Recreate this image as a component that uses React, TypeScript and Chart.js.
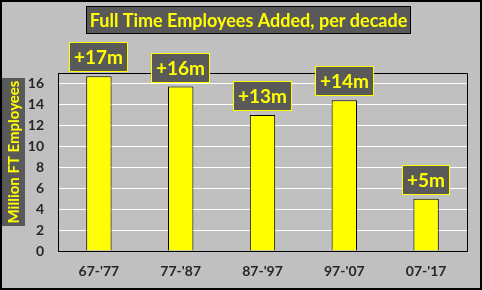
import React, { useEffect, useRef } from 'react';
import { Chart, registerables } from 'chart.js';

Chart.register(...registerables);

const categories = ["67-'77", "77-'87", "87-'97", "97-'07", "07-'17"];
const employeesAdded = [16.7, 15.7, 13.0, 14.4, 5.0];
const valueLabels = ['+17m', '+16m', '+13m', '+14m', '+5m'];
const yTickValues = [0, 2, 4, 6, 8, 10, 12, 14, 16];
const chartTitle = 'Full Time Employees Added, per decade';
const yAxisTitle = 'Million FT Employees';
const yMax = 17;

const FONT = 'Lato, "Open Sans", sans-serif';
const BOX_FILL = '#595959';
const YELLOW = '#FFFF00';

const decorPlugin = {
  id: 'decor',
  beforeDraw(chart: any) {
    const ctx = chart.ctx;
    ctx.save();
    ctx.fillStyle = '#C0C0C0';
    ctx.fillRect(0, 0, chart.width, chart.height);
    ctx.restore();
  },
  afterDraw(chart: any) {
    const ctx = chart.ctx;
    const area = chart.chartArea;
    ctx.save();

    // plot area top & right border
    ctx.strokeStyle = '#000';
    ctx.lineWidth = 1;
    ctx.beginPath();
    ctx.moveTo(Math.round(area.left) + 0.5, Math.round(area.top) + 0.5);
    ctx.lineTo(Math.round(area.right) + 0.5, Math.round(area.top) + 0.5);
    ctx.lineTo(Math.round(area.right) + 0.5, Math.round(area.bottom) + 0.5);
    ctx.stroke();

    // outer border
    ctx.lineWidth = 2;
    ctx.strokeRect(1, 1, chart.width - 2, chart.height - 2);

    // title box
    ctx.fillStyle = BOX_FILL;
    ctx.fillRect(86, 6, 325, 28);
    ctx.lineWidth = 1;
    ctx.strokeStyle = '#000';
    ctx.strokeRect(86.5, 6.5, 324, 27);
    ctx.fillStyle = YELLOW;
    ctx.font = `bold 18px ${FONT}`;
    ctx.textAlign = 'center';
    ctx.textBaseline = 'middle';
    ctx.fillText(chartTitle, 248.5, 21);

    // y axis title box
    ctx.fillStyle = BOX_FILL;
    ctx.fillRect(2, 78, 23, 148);
    ctx.save();
    ctx.translate(14, 152);
    ctx.rotate(-Math.PI / 2);
    ctx.fillStyle = YELLOW;
    ctx.font = `bold 15px ${FONT}`;
    ctx.textAlign = 'center';
    ctx.textBaseline = 'middle';
    ctx.fillText(yAxisTitle, 0, 0);
    ctx.restore();

    // value labels
    const meta = chart.getDatasetMeta(0);
    ctx.font = `bold 19px ${FONT}`;
    meta.data.forEach((bar: any, i: number) => {
      const text = valueLabels[i];
      const tw = ctx.measureText(text).width;
      const w = Math.round(tw + 10);
      const h = 30;
      const x = Math.round(bar.x - w / 2);
      const y = Math.round(bar.y - 4 - h);
      ctx.fillStyle = BOX_FILL;
      ctx.fillRect(x, y, w, h);
      ctx.strokeStyle = YELLOW;
      ctx.lineWidth = 1;
      ctx.strokeRect(x + 0.5, y + 0.5, w - 1, h - 1);
      ctx.fillStyle = YELLOW;
      ctx.textAlign = 'center';
      ctx.textBaseline = 'middle';
      ctx.fillText(text, x + w / 2, y + h / 2 + 1);
    });

    ctx.restore();
  },
};

export default function App() {
  const canvasRef = useRef<HTMLCanvasElement | null>(null);

  useEffect(() => {
    document.body.style.margin = '0';
    const canvas = canvasRef.current;
    if (!canvas) return;
    const chart = new Chart(canvas, {
      type: 'bar',
      data: {
        labels: categories,
        datasets: [
          {
            data: employeesAdded,
            backgroundColor: YELLOW,
            borderColor: '#000',
            borderWidth: 1,
            barPercentage: 0.31,
            categoryPercentage: 1,
          },
        ],
      },
      options: {
        responsive: false,
        animation: false,
        devicePixelRatio: 1,
        layout: { padding: { top: 73, right: 15, left: 0, bottom: 0 } },
        plugins: {
          legend: { display: false },
          title: { display: false },
          tooltip: { enabled: false },
        },
        scales: {
          x: {
            grid: { display: false, drawTicks: false },
            border: { display: true, color: '#000', width: 1 },
            ticks: {
              color: '#262626',
              font: { family: FONT, size: 14, weight: 'bold' },
              padding: 12,
              maxRotation: 0,
            },
            afterFit(scale: any) {
              scale.height = 39;
            },
          },
          y: {
            min: 0,
            max: yMax,
            grid: { color: '#FFFFFF', lineWidth: 1, drawTicks: false },
            border: { display: true, color: '#000', width: 1 },
            ticks: {
              autoSkip: false,
              color: '#262626',
              font: { family: FONT, size: 14, weight: 'bold' },
              padding: 14,
            },
            afterBuildTicks(scale: any) {
              scale.ticks = yTickValues.map((v) => ({ value: v }));
            },
            afterFit(scale: any) {
              scale.width = 58;
            },
          },
        },
      },
      plugins: [decorPlugin],
    });
    return () => chart.destroy();
  }, []);

  return (
    <div style={{ width: 482, height: 290 }}>
      <canvas ref={canvasRef} width={482} height={290} style={{ display: 'block' }} />
    </div>
  );
}
